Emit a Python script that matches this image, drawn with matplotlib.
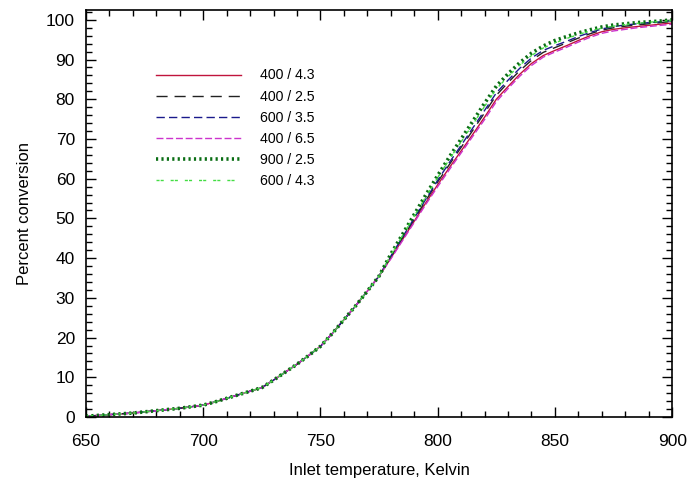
import matplotlib
matplotlib.use('Agg')
import matplotlib.pyplot as plt
from matplotlib.ticker import MultipleLocator

plt.rcParams['font.family'] = ['Liberation Sans', 'DejaVu Sans']

temp = list(range(650, 905, 5))

# shared part below 780 K
low = [0.2, 0.4, 0.6, 0.8, 1.0, 1.3, 1.6, 1.9, 2.2, 2.6, 3.0, 3.8, 4.7, 5.6, 6.5,
       7.4, 9.3, 11.3, 13.3, 15.5, 17.8, 21.0, 24.5, 28.0, 31.7, 35.5]

hi_400_43 = [40.0, 44.7, 49.3, 54.0, 58.5, 62.8, 67.0, 71.2, 75.5, 80.0, 83.2, 86.3, 89.0,
             91.0, 92.3, 93.5, 94.8, 96.0, 97.0, 97.6, 98.0, 98.3, 98.6, 98.9, 99.2]
hi_400_25 = [40.3, 45.1, 49.8, 54.6, 59.2, 63.6, 67.9, 72.2, 76.6, 81.0, 84.2, 87.2, 89.8,
             91.8, 93.0, 94.2, 95.4, 96.5, 97.4, 98.0, 98.4, 98.7, 99.0, 99.3, 99.6]
hi_600_35 = [40.5, 45.3, 50.1, 54.9, 59.6, 64.1, 68.4, 72.8, 77.2, 81.6, 84.8, 87.8, 90.4,
             92.3, 93.5, 94.6, 95.8, 96.8, 97.7, 98.3, 98.7, 99.0, 99.3, 99.5, 99.8]
hi_400_65 = [39.8, 44.4, 49.0, 53.6, 58.0, 62.3, 66.5, 70.7, 74.9, 79.4, 82.7, 85.8, 88.5,
             90.6, 91.9, 93.1, 94.4, 95.6, 96.6, 97.2, 97.6, 98.0, 98.3, 98.6, 98.9]
hi_900_25 = [41.0, 46.0, 51.0, 56.0, 60.8, 65.5, 70.0, 74.5, 79.0, 83.3, 86.4, 89.2, 91.6,
             93.4, 94.8, 95.8, 96.7, 97.5, 98.2, 98.7, 99.0, 99.3, 99.5, 99.7, 100.0]
hi_600_43 = [40.8, 45.7, 50.6, 55.5, 60.3, 64.9, 69.3, 73.7, 78.2, 82.6, 85.7, 88.6, 91.0,
             92.9, 94.2, 95.3, 96.3, 97.2, 97.9, 98.4, 98.8, 99.1, 99.4, 99.6, 99.9]

labels = ['400 / 4.3', '400 / 2.5', '600 / 3.5', '400 / 6.5', '900 / 2.5', '600 / 4.3']

fig = plt.figure(figsize=(6.88, 4.87), dpi=100)
ax = fig.add_axes([0.125, 0.1437, 0.852, 0.836])

ax.plot(temp, low + hi_400_43, color='#c0143c', lw=1.0, label=labels[0])
ax.plot(temp, low + hi_400_25, color='#222222', lw=1.0, ls=(0, (8, 5)), label=labels[1])
ax.plot(temp, low + hi_600_35, color='#1a1a8c', lw=1.0, ls=(0, (6, 3)), label=labels[2])
ax.plot(temp, low + hi_400_65, color='#cc33cc', lw=1.0, ls=(0, (5, 2)), label=labels[3])
ax.plot(temp, low + hi_900_25, color='#0a6e14', lw=2.6, ls=(0, (0.6, 0.9)), label=labels[4])
ax.plot(temp, low + hi_600_43, color='#44dd44', lw=1.0, ls=(0, (2.2, 0.8, 2.2, 5)), label=labels[5])

ax.set_xlim(650, 900)
ax.set_ylim(0, 102.5)
ax.xaxis.set_major_locator(MultipleLocator(50))
ax.xaxis.set_minor_locator(MultipleLocator(10))
ax.yaxis.set_major_locator(MultipleLocator(10))
ax.yaxis.set_minor_locator(MultipleLocator(2))
ax.tick_params(which='both', direction='in', top=True, right=True, labelsize=12.5)
ax.tick_params(which='major', length=7, width=1)
ax.tick_params(which='minor', length=4, width=1)
ax.tick_params(axis='x', which='major', pad=12)
ax.tick_params(axis='y', which='major', pad=8)
for s in ax.spines.values():
    s.set_linewidth(1.2)

ax.set_xlabel('Inlet temperature, Kelvin', fontsize=12, labelpad=10)
ax.set_ylabel('Percent conversion', fontsize=12, labelpad=10)

ax.legend(loc='upper left', bbox_to_anchor=(0.218, 0.871), bbox_transform=fig.transFigure,
          frameon=False, fontsize=10.2, handlelength=6.0, handletextpad=1.4,
          labelspacing=0.5, borderaxespad=0)

fig.savefig('out.png', dpi=100)
